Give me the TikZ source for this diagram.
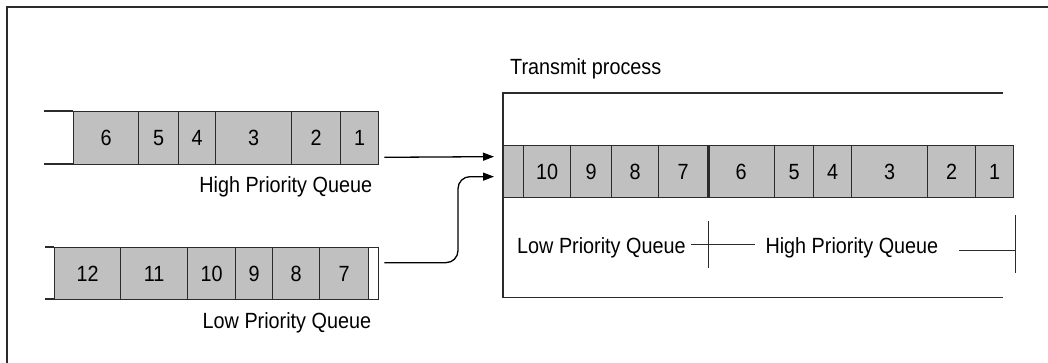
\documentclass[tikz,border=0pt]{standalone}
\usepackage{fontspec}
\setmainfont{Liberation Sans}[FakeStretch=0.9]
\usetikzlibrary{arrows.meta,calc}
\definecolor{cellgray}{HTML}{C0C0C0}
\definecolor{ink}{HTML}{2B2B2B}

% one packet cell: [extra style] name, left x, right x, top y, bottom y, label
\newcommand\qcell[7][]{%
  \node[cell, minimum width={(#4)-(#3)}, minimum height={(#6)-(#5)}, #1] (#2) at (#3,#5) {#7};}

\begin{document}
\begin{tikzpicture}[x=1pt,y=-1pt,
  every node/.style={font=\fontsize{22}{26}\selectfont},
  cell/.style={draw=ink, fill=cellgray, line width=1.3pt, inner sep=0pt, anchor=north west},
  rule/.style={draw=ink, line width=1.3pt},
  arrow/.style={draw=black, line width=1.3pt, -{Triangle[length=11pt,width=8pt]}},
  lbl/.style={inner sep=0pt, text=black},
  ]
\useasboundingbox (0,0) rectangle (1048,362);

% outer frame
\draw[ink, line width=2pt] (7,370) -- (7,7) -- (1056,7);

% high priority queue
\draw[rule] (44,111) -- (73,111);
\draw[rule] (44,164) -- (73,164);
\qcell{h6}{73}{138}{111}{164}{6}
\qcell{h5}{138}{178}{111}{164}{5}
\qcell{h4}{178}{215}{111}{164}{4}
\qcell{h3}{215}{291}{111}{164}{3}
\qcell{h2}{291}{340}{111}{164}{2}
\qcell{h1}{340}{378}{111}{164}{1}
\node[lbl, anchor=base east] (hql) at ([shift={(-7,27)}]h1.south east) {High Priority Queue};

% low priority queue
\draw[rule] (45,247) -- (54,247);
\draw[rule] (45,299) -- (54,299);
\qcell{l12}{54}{120}{247}{299}{12}
\qcell{l11}{120}{187}{247}{299}{11}
\qcell{l10}{187}{235}{247}{299}{10}
\qcell{l9}{235}{272}{247}{299}{9}
\qcell{l8}{272}{319}{247}{299}{8}
\qcell{l7}{319}{368}{247}{299}{7}
\qcell[fill=white]{lgap}{368}{378}{247}{299}{}
\node[lbl, anchor=base east] (lql) at ([shift={(-8,28)}]lgap.south east) {Low Priority Queue};

% transmit process
\node[inner sep=0pt, minimum width=500, minimum height=204, anchor=north west] (tp) at (503,93) {};
\draw[rule] (tp.north east) -- (tp.north west) -- (tp.south west) -- (tp.south east);
\node[lbl, anchor=base west] (tpl) at ([shift={(7,-19)}]tp.north west) {Transmit process};

\qcell{t0}{503}{523}{145}{197}{}
\qcell{t10}{523}{570}{145}{197}{10}
\qcell{t9}{570}{611}{145}{197}{9}
\qcell{t8}{611}{658}{145}{197}{8}
\qcell{t7}{658}{707}{145}{197}{7}
\qcell{t6}{707}{774}{145}{197}{6}
\qcell{t5}{774}{813}{145}{197}{5}
\qcell{t4}{813}{851}{145}{197}{4}
\qcell{t3}{851}{927}{145}{197}{3}
\qcell{t2}{927}{975}{145}{197}{2}
\qcell{t1}{975}{1013}{145}{197}{1}
\draw[ink, line width=2.4pt] (t7.north east) -- (t7.south east);

% extent markers under the transmit queue
\node[lbl, anchor=base west] (tlow) at ([shift={(14,55)}]t0.south west) {Low Priority Queue};
\node[lbl, anchor=base west] (thigh) at ([shift={(57,55)}]t7.south east) {High Priority Queue};
\draw[rule] ([shift={(-17,46)}]t7.south east) -- ++(64,0);
\draw[rule] ([shift={(0,23)}]t7.south east) -- ++(0,47);
\draw[rule] ([shift={(-55,52)}]t1.south east) -- ++(56,0);
\draw[rule] ([shift={(1,17)}]t1.south east) -- ++(0,58);

% feeds into the transmit process
\draw[arrow] ([shift={(5,-8)}]h1.south east) -- ([shift={(-9,-15)}]t0.west);
\draw[arrow, rounded corners=12] ([shift={(5,-11)}]lgap.east) -| ([shift={(-45,5)}]t0.west) -- ([shift={(-9,5)}]t0.west);
\end{tikzpicture}
\end{document}
